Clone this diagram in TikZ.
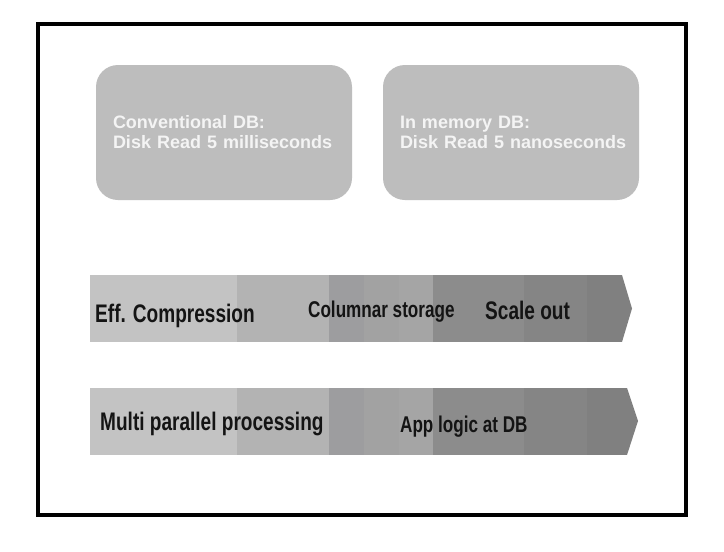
\documentclass[tikz,border=0pt]{standalone}
\usepackage{fontspec}
\usepackage{graphicx}
\setmainfont{Liberation Sans}
\definecolor{boxgrey}{HTML}{BDBDBD}
\definecolor{sA}{HTML}{C3C3C3}
\definecolor{sB}{HTML}{B3B3B3}
\definecolor{sC}{HTML}{9D9D9F}
\definecolor{sD}{HTML}{A2A2A2}
\definecolor{sE}{HTML}{A5A5A5}
\definecolor{sF}{HTML}{8C8C8C}
\definecolor{sG}{HTML}{858585}
\definecolor{sH}{HTML}{808080}
\definecolor{txt}{HTML}{141414}
\definecolor{boxtxt}{HTML}{F4F4F4}
\tikzset{
  dbbox/.style={rounded corners=22pt, fill=boxgrey, draw=none, minimum width=256pt,
    minimum height=135pt, text width=222pt, align=left, inner xsep=17pt, inner ysep=0pt,
    text=boxtxt, font=\fontsize{18}{20}\selectfont\bfseries},
  bigtxt/.style={anchor=base west, inner sep=0pt, text=txt, font=\fontsize{25.4}{28}\selectfont\bfseries},
  midtxt/.style={anchor=base west, inner sep=0pt, text=txt, font=\fontsize{22.8}{26}\selectfont\bfseries},
  frame/.style={draw=black, line width=4pt}
}
\newcommand{\segs}[2]{%
  \fill[sA] (90,#1) rectangle (237,#2);
  \fill[sB] (237,#1) rectangle (329,#2);
  \fill[sC] (329,#1) rectangle (364,#2);
  \fill[sD] (364,#1) rectangle (399,#2);
  \fill[sE] (399,#1) rectangle (433,#2);
  \fill[sF] (433,#1) rectangle (524,#2);
  \fill[sG] (524,#1) rectangle (587,#2);
  \fill[sH] (587,#1) rectangle (650,#2);
}
\begin{document}
\begin{tikzpicture}[x=1pt,y=-1pt]
\useasboundingbox (0,0) rectangle (724,552);
\fill[white] (0,0) rectangle (724,552);
\draw[frame] (38,24) rectangle (686,515);

\node[dbbox] (conv) at (224,132.5) {\mbox{Conventional DB:}\\\mbox{Disk Read 5 milliseconds}};
\node[dbbox] (inmem) at (511,132.5) {\mbox{In memory DB:}\\\mbox{Disk Read 5 nanoseconds}};

\begin{scope}
  \clip (90,275) -- (622,275) -- (632,308.5) -- (622,342) -- (90,342) -- cycle;
  \segs{275}{342}
\end{scope}
\begin{scope}
  \clip (90,388) -- (627,388) -- (638,421) -- (627,455) -- (90,455) -- cycle;
  \segs{388}{455}
\end{scope}

\node[bigtxt] (eff) at (95,322) {\scalebox{0.75}[1]{Eff. Compression}};
\node[midtxt] (col) at (308,317) {\scalebox{0.75}[1]{Columnar storage}};
\node[bigtxt] (scale) at (485,319) {\scalebox{0.75}[1]{Scale out}};
\node[bigtxt] (mpp) at (100,430) {\scalebox{0.75}[1]{Multi parallel processing}};
\node[midtxt] (app) at (400,432) {\scalebox{0.75}[1]{App logic at DB}};
\end{tikzpicture}
\end{document}
